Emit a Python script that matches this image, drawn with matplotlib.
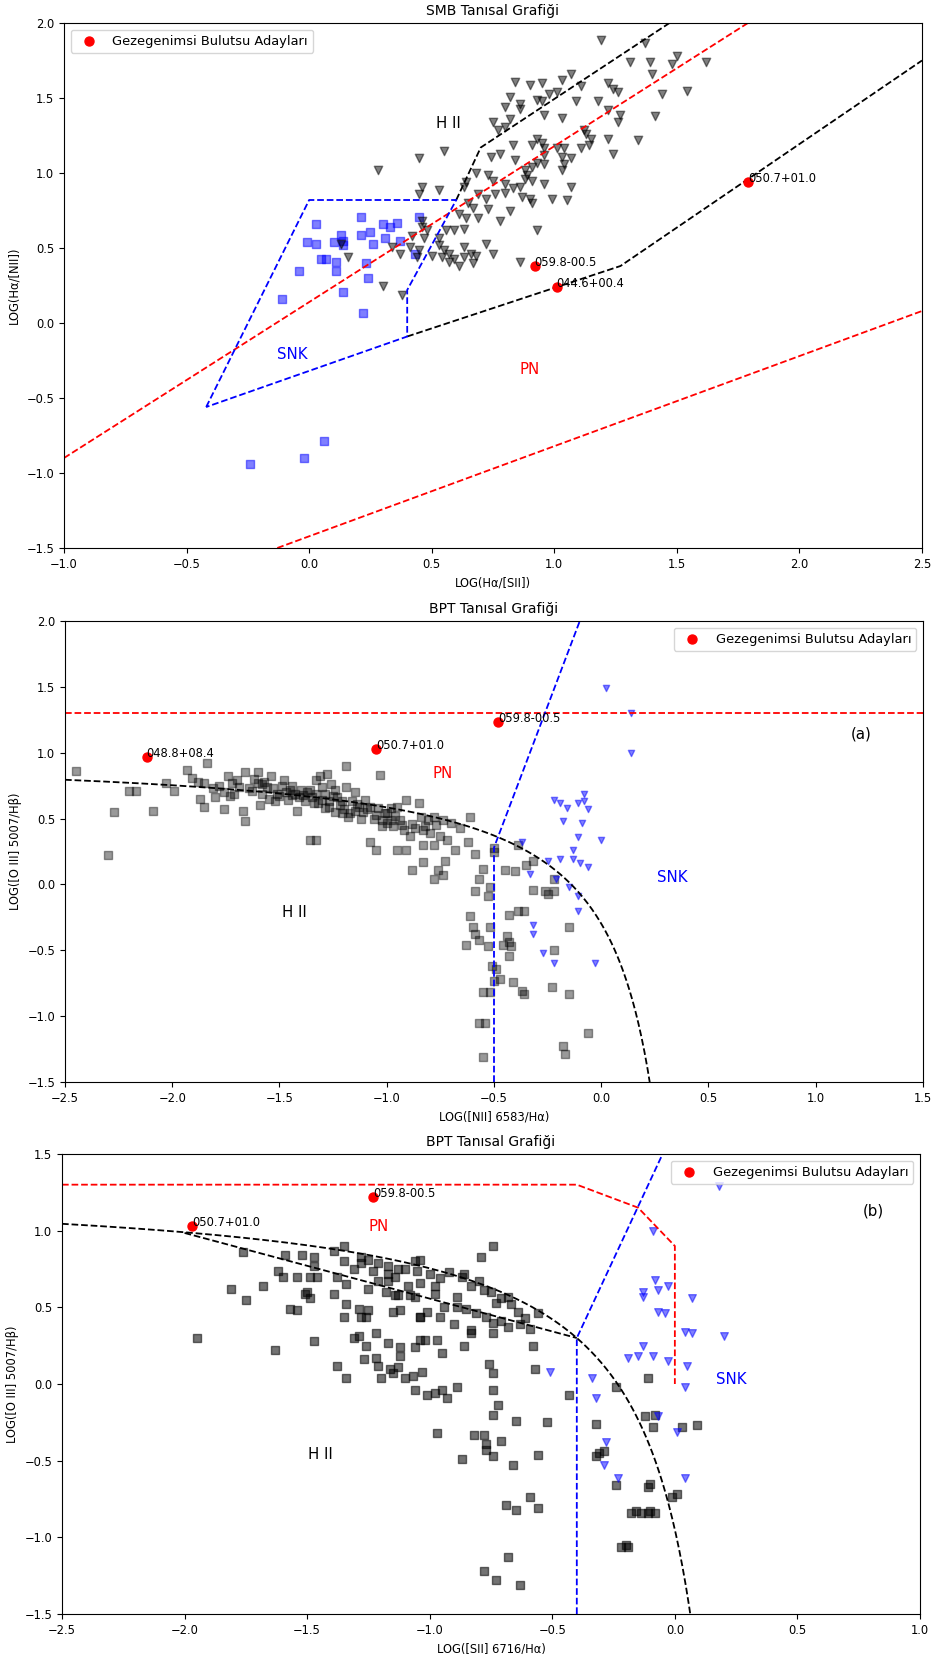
import numpy as np
import matplotlib
matplotlib.use('Agg')
import matplotlib.pyplot as plt

# ---------------- Panel 1 : SMB diagram ----------------
smb_snr_x = [0.21,0.45,0.03,0.30,0.33,0.36,0.25,0.21,0.13,0.31, 0.37,-0.01,0.03,0.10,0.14,0.14,0.26,0.05,0.07,0.11,
             0.23,-0.04,0.11,0.24,0.14,-0.11,0.22,0.06,-0.02,-0.24, 0.43]
smb_snr_y = [0.71,0.71,0.66,0.66,0.64,0.67,0.61,0.59,0.59,0.57, 0.55,0.54,0.53,0.54,0.55,0.52,0.53,0.43,0.43,0.41,
             0.40,0.35,0.35,0.30,0.21,0.16,0.07,-0.79,-0.90,-0.94, 0.46]
smb_hii_x = [1.19,1.37,1.50,1.31,1.39,1.48,1.62,1.40,1.07,0.84, 0.90,0.95,1.03,1.11,1.22,1.24,0.98,1.01,1.26,1.54,
             1.44,0.82,0.93,0.95,1.09,1.18,0.80,0.86,0.86,1.22, 0.96,1.27,1.41,1.03,0.75,0.82,0.80,0.77,1.12,1.13,
             1.26,1.15,1.22,1.34,0.93,0.95,0.83,0.91,0.96,1.01, 1.04,1.11,1.14,1.24,0.74,0.78,0.84,0.96,1.03,1.07,
             0.93,0.96,1.04,0.91,0.88,1.03,0.45,0.55,0.28,0.68, 0.73,0.75,0.89,0.88,0.91,0.86,0.80,0.83,0.64,0.63,
             0.46,0.53,0.45,0.76,0.80,0.87,0.90,0.91,0.99,1.05, 1.07,0.96,0.69,0.72,0.65,0.67,0.73,0.64,0.69,0.78,
             0.82,0.61,0.59,0.63,0.56,0.93,0.46,0.46,0.48,0.47, 0.42,0.41,0.45,0.37,0.34,0.44,0.53,0.53,0.55,0.54,
             0.57,0.59,0.57,0.61,0.63,0.63,0.66,0.67,0.68,0.72, 0.75,0.86,0.16,0.30,0.38,0.13,0.50]
smb_hii_y = [1.89,1.87,1.78,1.74,1.74,1.73,1.74,1.66,1.66,1.61, 1.59,1.60,1.62,1.58,1.60,1.56,1.53,1.54,1.54,1.55,
             1.53,1.51,1.49,1.48,1.48,1.48,1.44,1.46,1.43,1.42, 1.39,1.39,1.38,1.37,1.34,1.36,1.31,1.29,1.29,1.26,
             1.34,1.23,1.23,1.22,1.23,1.20,1.19,1.19,1.17,1.17, 1.17,1.17,1.19,1.13,1.11,1.13,1.09,1.12,1.11,1.10,
             1.07,1.06,1.06,1.04,1.02,1.02,1.10,1.15,1.02,1.00, 0.99,0.95,0.99,0.96,0.95,0.91,0.93,0.90,0.94,0.91,
             0.91,0.89,0.86,0.86,0.87,0.84,0.83,0.80,0.83,0.82, 0.91,0.93,0.86,0.83,0.80,0.77,0.76,0.70,0.70,0.68,
             0.75,0.73,0.62,0.63,0.62,0.62,0.68,0.64,0.62,0.57, 0.58,0.51,0.49,0.46,0.51,0.44,0.57,0.52,0.49,0.44,
             0.46,0.43,0.41,0.38,0.44,0.51,0.46,0.40,0.45,0.53, 0.46,0.41,0.44,0.25,0.19,0.53,0.45]
smb_pn_x = [0.92, 1.01, 1.79]
smb_pn_y = [0.38, 0.24, 0.94]
smb_pn_names = ["059.8-00.5", "044.6+00.4", "050.7+01.0"]

# boundary lines (data coordinates)
smb_snr_box_x = [-0.42, 0.0, 0.6, 0.4, 0.4, -0.42]
smb_snr_box_y = [-0.56, 0.82, 0.82, 0.22, -0.09, -0.56]
smb_hii_low_x = [0.4, 1.27, 2.5]
smb_hii_low_y = [-0.09, 0.38, 1.75]
smb_hii_up_x = [0.6, 0.70, 1.47]
smb_hii_up_y = [0.82, 1.17, 2.0]
smb_red1_x = [-1.0, 1.79]
smb_red1_y = [-0.9, 2.0]
smb_red2_x = [-0.13, 2.5]
smb_red2_y = [-1.5, 0.08]

# ---------------- Panel 2 : BPT [NII] ----------------
n2_hii_x = [-2.45,-2.27,-2.30,-2.20,-2.17,-2.09,-2.03,-1.99,-1.93,-1.91, -1.84,-1.88,-1.85,-1.87,-1.85,-1.78,-1.76,-1.74,-1.72,-1.71,
            -1.67,-1.66,-1.66,-1.60,-1.60,-1.59,-1.54,-1.53,-1.52,-1.49, -1.44,-1.42,-1.39,-1.36,-1.33,-1.31,-1.28,-1.19,-1.19,-1.15,
            -1.03,-1.36,-1.33,-1.30,-1.27,-1.24,-1.21,-1.18,-1.15,-1.12, -1.08,-1.05,-1.02,-1.08,-1.05,-1.01,
            -1.58,-1.50,-1.46,-1.43,-1.38,-1.33,-1.32,-1.29,-1.25,-1.24, -1.22,-1.16,-1.13,-1.10,-1.04,-0.98,-1.55,-1.64,-1.81,-1.73,
            -0.91,-0.85,-1.00,-0.94,-0.88,-0.81,-0.77,-0.74,-0.72,-0.78, -0.83,-0.95,-0.91,-0.68,-0.61,-0.62,-0.59,-0.83,-0.88,-0.76,
            -0.73,-0.78,-0.74,-0.50,-0.50,-0.39,-0.55,-0.45,-0.40,-0.35, -0.32,-0.57,-0.52,-0.59,-0.53,-0.32,-0.26,-0.25,-0.22,-0.22,
            -0.61,-0.43,-0.39,-0.36,-0.60,-0.52,-0.59,-0.57,-0.63,-0.53, -0.46,-0.44,-0.43,-0.42,-0.43,-0.15,-0.22,-0.51,-0.49,-0.50,
            -0.47,-0.55,-0.52,-0.41,-0.37,-0.36,-0.23,-0.15,-0.57,-0.54, -0.55,-0.06,-0.18,-0.17,
            -1.02,-0.97,-0.92,-0.89,-0.83,-0.80,-0.75,-0.98,-0.95,-0.78,-0.84,
            -1.62,-1.57,-1.47,-1.40,-1.35,-1.27,-1.20,-1.17,-1.11,-1.06, -1.00,-0.96,-1.30,-1.26,-1.48,-1.69,-1.80,-1.76,-1.70,-1.63,
            -1.56,-1.51,-1.45,-1.41,-1.37,-1.34,-1.23,-1.14,-1.09,-0.93, -0.87,-0.82,-0.70,-0.66,-1.58,-1.44,-1.29,-1.21]
n2_hii_y = [0.86,0.55,0.22,0.71,0.71,0.56,0.77,0.71,0.87,0.81, 0.92,0.78,0.77,0.65,0.59,0.75,0.57,0.82,0.77,0.69,
            0.56,0.48,0.85,0.85,0.77,0.60,0.82,0.73,0.63,0.75, 0.75,0.56,0.68,0.72,0.79,0.82,0.84,0.90,0.74,0.70,
            0.83,0.34,0.34,0.64,0.59,0.55,0.63,0.51,0.56,0.50, 0.59,0.53,0.44,0.32,0.26,0.54,
            0.69,0.67,0.64,0.69,0.63,0.69,0.62,0.69,0.67,0.72, 0.60,0.63,0.59,0.64,0.58,0.49,0.65,0.73,0.73,0.67,
            0.64,0.62,0.54,0.49,0.46,0.49,0.45,0.49,0.34,0.30, 0.30,0.26,0.26,0.26,0.51,0.32,0.23,0.17,0.11,0.11,
            0.18,0.04,0.07,0.28,0.25,0.30,0.12,0.11,0.10,0.15, 0.18,0.04,-0.02,-0.05,-0.09,-0.04,-0.05,-0.07,0.04,-0.05,
            -0.24,-0.23,-0.20,-0.20,-0.32,-0.32,-0.38,-0.42,-0.46,-0.47, -0.46,-0.39,-0.44,-0.47,-0.54,-0.32,-0.50,-0.62,-0.64,-0.73,
            -0.72,-0.82,-0.82,-0.74,-0.81,-0.83,-0.78,-0.83,-1.05,-1.05, -1.31,-1.13,-1.23,-1.29,
            0.49,0.44,0.41,0.37,0.41,0.39,0.37,0.58,0.59,0.51,0.51,
            0.80,0.78,0.70,0.72,0.66,0.63,0.57,0.54,0.55,0.50, 0.47,0.52,0.74,0.76,0.79,0.74,0.66,0.70,0.79,0.71,
            0.74,0.69,0.72,0.66,0.70,0.62,0.66,0.61,0.57,0.45, 0.43,0.44,0.47,0.43,0.76,0.68,0.58,0.54]
n2_snr_x = [-0.08,-0.22,-0.19,-0.16,-0.11,-0.08,-0.06,-0.18,-0.09,-0.11, 0.00,-0.37,-0.13,-0.25,-0.19,-0.13,-0.10,-0.06,-0.33,-0.21,
            -0.15,-0.11,-0.11,-0.32,-0.32,-0.27,-0.22,-0.03,0.02,0.14, 0.14]
n2_snr_y = [0.69,0.64,0.62,0.58,0.62,0.63,0.57,0.48,0.47,0.36, 0.34,0.32,0.26,0.18,0.19,0.19,0.16,0.13,0.08,0.04,
            -0.02,-0.09,-0.20,-0.31,-0.38,-0.52,-0.60,-0.60,1.49,1.30, 1.00]
n2_pn_x = [-2.12, -1.05, -0.48]
n2_pn_y = [0.97, 1.03, 1.23]
n2_pn_names = ["048.8+08.4", "050.7+01.0", "059.8-00.5"]
n2_blue_x = [-0.5, -0.5, -0.1]
n2_blue_y = [-1.5, 0.28, 2.0]
n2_pn_limit = 1.3
n2_curve = (0.61, 0.47, 1.0)   # y = a/(x-b)+c

# ---------------- Panel 3 : BPT [SII] ----------------
s2_hii_x = [-1.76,-1.81,-1.75,-1.68,-1.59,-1.52,-1.47,-1.47,-1.62,-1.60, -1.54,-1.49,-1.46,-1.51,-1.50,-1.39,-1.35,-1.35,-1.38,-1.34,
            -1.39,-1.31,-1.28,-1.25,-1.21,-1.28,-1.23,-1.17,-1.17,-1.13, -1.21,-1.25,-1.18,-1.14,
            -1.95,-1.63,-1.47,-1.57,-1.54,-1.49,-1.34,-1.35,-1.29,-1.25, -1.28,-1.26,-1.31,-1.29,-1.22,-1.26,-1.17,-1.12,-1.12,-1.06,
            -1.27,-1.22,-1.21,-1.38,-1.34,-1.20,-1.16,-1.15,-1.13,-1.10, -1.07,-1.06,-1.15,-1.12,-1.04,-1.04,-1.17,-1.14,-1.10,-1.06,
            -1.08,-1.13,
            -0.74,-0.79,-1.04,-1.05,-1.00,-0.96,-0.92,-0.87,-0.86,-0.80, -0.83,-0.78,-0.75,-0.71,-0.67,-0.64,-0.61,-0.63,-0.68,-0.71,
            -0.74,-0.74,-0.77,-0.81,-0.85,-0.89,-0.89,-0.94,-0.98,-1.04, -1.09,-1.04,-1.01,-0.96,-0.90,-0.83,-0.83,-0.86,-0.56,-0.58,
            -0.59,-0.68,-0.73,-0.98,-1.06,-1.02,-0.97,-0.95,-1.03,-1.01, -0.98,-0.95,-0.93,-0.89,-0.76,-0.74,-0.74,-0.57,-0.72,-0.74,
            -0.65,-0.52,-0.97,-0.82,-0.78,-0.71,-0.77,-0.77,-0.87,-0.74, -0.56,-0.66,-0.43,-0.32,-0.11,-0.24,-0.12,-0.09,0.03,0.09,
            -0.31,-0.29,-0.32,-0.24,-0.10,-0.11,-0.08,
            -0.59,-0.69,-0.65,-0.56,-0.68,-0.78,-0.73,-0.63,-0.01,0.01, -0.18,-0.16,-0.14,-0.11,-0.10,-0.08,-0.22,-0.20,-0.19]
s2_hii_y = [0.86,0.62,0.55,0.64,0.84,0.84,0.83,0.77,0.74,0.70, 0.70,0.70,0.70,0.59,0.60,0.87,0.90,0.80,0.70,0.65,
            0.59,0.75,0.79,0.81,0.79,0.83,0.74,0.77,0.72,0.75, 0.67,0.62,0.60,0.58,
            0.30,0.22,0.28,0.49,0.48,0.56,0.52,0.44,0.49,0.48, 0.44,0.44,0.30,0.31,0.33,0.25,0.27,0.24,0.18,0.24,
            0.16,0.17,0.12,0.12,0.04,0.04,0.10,0.07,0.11,0.04, 0.05,-0.04,0.47,0.48,0.44,0.29,0.67,0.70,0.75,0.80,
            0.58,0.58,
            0.90,0.83,0.81,0.74,0.72,0.69,0.73,0.70,0.72,0.67, 0.64,0.61,0.60,0.56,0.52,0.47,0.43,0.39,0.37,0.41,
            0.33,0.40,0.44,0.46,0.49,0.50,0.57,0.50,0.59,0.66, 0.64,0.44,0.47,0.44,0.39,0.35,0.33,0.25,0.46,0.25,
            0.36,0.57,0.53,0.64,0.57,0.29,0.29,0.20,0.08,-0.07, -0.06,-0.04,-0.09,-0.02,0.13,0.07,-0.04,0.10,-0.14,-0.20,
            -0.24,-0.25,-0.32,-0.33,-0.33,-0.37,-0.39,-0.43,-0.49,-0.47, -0.46,-0.53,-0.07,-0.26,0.04,-0.02,-0.21,-0.28,-0.28,-0.27,
            -0.45,-0.44,-0.47,-0.66,-0.65,-0.67,-0.20,
            -0.74,-0.79,-0.82,-0.81,-1.13,-1.22,-1.28,-1.31,-0.74,-0.72, -0.84,-0.83,-0.84,-0.84,-0.83,-0.84,-1.06,-1.05,-1.06]
s2_snr_x = [-0.51,-0.34,-0.32,-0.28,-0.29,-0.23,-0.07,0.01,0.04,0.18, -0.09,-0.08,-0.13,-0.13,-0.07,-0.03,0.07,-0.07,-0.04,0.04,
            0.07,0.20,-0.13,-0.19,-0.15,-0.09,-0.03,0.05,0.04]
s2_snr_y = [0.08,0.04,-0.09,-0.38,-0.53,-0.61,-0.21,-0.31,-0.61,1.29, 1.00,0.68,0.60,0.57,0.61,0.64,0.56,0.47,0.46,0.34,
            0.33,0.31,0.25,0.17,0.18,0.18,0.15,0.12,-0.02]
s2_pn_x = [-1.97, -1.23]
s2_pn_y = [1.03, 1.22]
s2_pn_names = ["050.7+01.0", "059.8-00.5"]
s2_red_x = [-2.5, -0.4, -0.15, 0.0, 0.0]
s2_red_y = [1.3, 1.3, 1.15, 0.9, 0.0]
s2_blue_x = [-0.4, -0.4, -0.05]
s2_blue_y = [-1.5, 0.3, 1.5]
s2_curve = (0.72, 0.32, 1.30)   # y = a/(x-b)+c
s2_line_x = [-2.0, -0.4]
s2_line_y = [0.985, 0.3]

# ---------------- styles ----------------
FS = 8.3
TFS = 10
RFS = 10.8
LFS = 9.4
LEG = 'Gezegenimsi Bulutsu Adayları'
plt.rcParams['font.family'] = ['DejaVu Sans']

W, H = 935, 1654
fig = plt.figure(figsize=(W / 100, H / 100), dpi=100)


def add_ax(l, t, r, b):
    return fig.add_axes([l / W, 1 - b / H, (r - l) / W, (b - t) / H])


def style(ax, xlim, ylim, xt, yt, xl, yl, title):
    ax.set_xlim(*xlim)
    ax.set_ylim(*ylim)
    ax.set_xticks(xt)
    ax.set_yticks(yt)
    ax.tick_params(labelsize=FS)
    ax.set_xlabel(xl, fontsize=FS)
    ax.set_ylabel(yl, fontsize=FS)
    ax.set_title(title, fontsize=TFS)


def label_pns(ax, xs, ys, names):
    for x, y, n in zip(xs, ys, names):
        ax.text(x, y, n, fontsize=FS, ha='left', va='baseline')


def hyper(ax, params, x0, x1, **kw):
    a, b, c = params
    xs = np.linspace(x0, x1, 400)
    ax.plot(xs, a / (xs - b) + c, **kw)


# Panel 1
ax1 = add_ax(64, 23, 922, 548)
ax1.plot(smb_red1_x, smb_red1_y, 'r--', lw=1.3)
ax1.plot(smb_red2_x, smb_red2_y, 'r--', lw=1.3)
ax1.plot(smb_hii_low_x, smb_hii_low_y, 'k--', lw=1.3)
ax1.plot(smb_hii_up_x, smb_hii_up_y, 'k--', lw=1.3)
ax1.plot(smb_snr_box_x, smb_snr_box_y, 'b--', lw=1.3)
ax1.scatter(smb_snr_x, smb_snr_y, marker='s', c='blue', alpha=0.5, s=30)
ax1.scatter(smb_hii_x, smb_hii_y, marker='v', c='black', alpha=0.5, s=36)
ax1.scatter(smb_pn_x, smb_pn_y, c='red', s=42, label=LEG, zorder=3)
label_pns(ax1, smb_pn_x, smb_pn_y, smb_pn_names)
ax1.text(0.57, 1.33, 'H II', fontsize=RFS, ha='center', va='center')
ax1.text(-0.07, -0.21, 'SNK', fontsize=RFS, color='blue', ha='center', va='center')
ax1.text(0.90, -0.31, 'PN', fontsize=RFS, color='red', ha='center', va='center')
ax1.legend(loc='upper left', fontsize=LFS)
style(ax1, (-1.0, 2.5), (-1.5, 2.0), np.arange(-1.0, 2.51, 0.5), np.arange(-1.5, 2.01, 0.5),
      'LOG(Hα/[SII])', 'LOG(Hα/[NII])', 'SMB Tanısal Grafiği')

# Panel 2
ax2 = add_ax(65, 621, 923, 1082)
ax2.axhline(n2_pn_limit, color='red', ls='--', lw=1.3)
hyper(ax2, n2_curve, -2.5, 0.3, color='black', ls='--', lw=1.3)
ax2.plot(n2_blue_x, n2_blue_y, 'b--', lw=1.3)
ax2.scatter(n2_hii_x, n2_hii_y, marker='s', c='black', alpha=0.4, s=30)
ax2.scatter(n2_snr_x, n2_snr_y, marker='v', c='blue', alpha=0.5, s=20)
ax2.scatter(n2_pn_x, n2_pn_y, c='red', s=42, label=LEG, zorder=3)
label_pns(ax2, n2_pn_x, n2_pn_y, n2_pn_names)
ax2.text(-0.74, 0.84, 'PN', fontsize=RFS, color='red', ha='center', va='center')
ax2.text(0.33, 0.05, 'SNK', fontsize=RFS, color='blue', ha='center', va='center')
ax2.text(-1.43, -0.21, 'H II', fontsize=RFS, ha='center', va='center')
ax2.text(1.21, 1.14, '(a)', fontsize=RFS, ha='center', va='center')
ax2.legend(loc='upper right', fontsize=LFS)
style(ax2, (-2.5, 1.5), (-1.5, 2.0), np.arange(-2.5, 1.51, 0.5), np.arange(-1.5, 2.01, 0.5),
      'LOG([NII] 6583/Hα)', 'LOG([O III] 5007/Hβ)', 'BPT Tanısal Grafiği')

# Panel 3
ax3 = add_ax(62, 1154, 920, 1614)
ax3.plot(s2_red_x, s2_red_y, 'r--', lw=1.3)
hyper(ax3, s2_curve, -2.5, 0.2, color='black', ls='--', lw=1.3)
ax3.plot(s2_line_x, s2_line_y, 'k--', lw=1.3)
ax3.plot(s2_blue_x, s2_blue_y, 'b--', lw=1.3)
ax3.scatter(s2_hii_x, s2_hii_y, marker='s', c='black', alpha=0.55, s=30)
ax3.scatter(s2_snr_x, s2_snr_y, marker='v', c='blue', alpha=0.5, s=30)
ax3.scatter(s2_pn_x, s2_pn_y, c='red', s=42, label=LEG, zorder=3)
label_pns(ax3, s2_pn_x, s2_pn_y, s2_pn_names)
ax3.text(-1.445, -0.46, 'H II', fontsize=RFS, ha='center', va='center')
ax3.text(-1.21, 1.03, 'PN', fontsize=RFS, color='red', ha='center', va='center')
ax3.text(0.23, 0.03, 'SNK', fontsize=RFS, color='blue', ha='center', va='center')
ax3.text(0.81, 1.13, '(b)', fontsize=RFS, ha='center', va='center')
ax3.legend(loc='upper right', fontsize=LFS)
style(ax3, (-2.5, 1.0), (-1.5, 1.5), np.arange(-2.5, 1.01, 0.5), np.arange(-1.5, 1.51, 0.5),
      'LOG([SII] 6716/Hα)', 'LOG([O III] 5007/Hβ)', 'BPT Tanısal Grafiği')

fig.savefig('out.png', dpi=100)
